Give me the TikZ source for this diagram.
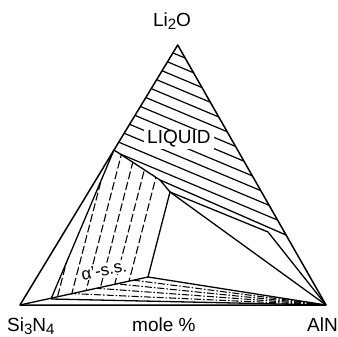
\documentclass[tikz,border=0pt]{standalone}
\usepackage{fontspec}
\setmainfont{Liberation Sans}
\begin{document}
\begin{tikzpicture}[x=1pt,y=-1pt,
  edge/.style={line width=1.5pt, line join=round},
  bd/.style={line width=1.3pt, line join=round},
  hatch/.style={line width=1.2pt},
  dsh/.style={line width=1.1pt, dash pattern=on 8pt off 3pt},
  dashdot/.style={line width=1.05pt, dash pattern=on 7pt off 2pt on 1.5pt off 2pt},
  lbl/.style={inner sep=0pt, font=\fontsize{19}{21}\selectfont}]
\useasboundingbox (0,0) rectangle (338,337);
\coordinate (S) at (20,305);
\coordinate (N) at (326,305);
\coordinate (L) at (177.7,45);
\coordinate (P1) at (114,150);
\coordinate (P2) at (286,235);
\coordinate (R) at (160,180);
\coordinate (Q) at (170,192);
\coordinate (T) at (268,232);
\coordinate (U) at (148,277);
\coordinate (W) at (51,299);
% liquid hatching
\begin{scope}
\clip (L) -- (P1) -- (R) -- (P2) -- cycle;
\foreach \k in {0,...,11} {
  \pgfmathsetmacro\c{-19.7+11.2*\k}
  \draw[hatch] (100,{0.42*100+\c}) -- (300,{0.42*300+\c});
}
\end{scope}
% alpha' s.s. dashed lines
\begin{scope}
\clip (P1) -- (R) -- (Q) -- (U) -- (W) -- cycle;
\foreach \x in {95.5,109,122.5,136,149.5,163} {
  \draw[dsh] ({\x+11},107.5) -- ({\x-44},320);
}
\end{scope}
% bottom dash-dot lines
\begin{scope}
\clip (S) -- (U) -- (N) -- cycle;
\foreach \y in {282,287,292,297} {
  \draw[dashdot] (N) -- ({326-1.7*178},{305-1.7*(305-\y)});
}
\end{scope}
% main lines
\draw[edge] (S) -- (N) -- (L) -- cycle;
\draw[bd] (P1) -- (R) -- (P2);
\draw[bd] (R) -- (Q) -- (U) -- (S);
\draw[bd] (P1) -- (W);
\draw[bd] (Q) -- (T) -- (N);
\draw[bd] (Q) -- (N);
\draw[bd] (U) -- (N);
\draw[bd] (W) -- (N);
% labels
\node[lbl, anchor=base] (li) at (172,26.5) {Li\raisebox{-0.3ex}{\fontsize{15}{15}\selectfont 2}O};
\node[lbl, anchor=base west] (si) at (7,331.5) {Si\raisebox{-0.3ex}{\fontsize{15}{15}\selectfont 3}N\raisebox{-0.3ex}{\fontsize{15}{15}\selectfont 4}};
\node[lbl, anchor=base west] (mole) at (132,331.5) {mole \%};
\node[lbl, anchor=base east] (aln) at (338,331.5) {AlN};
\node[lbl, anchor=base west, fill=white, inner xsep=3pt, inner ysep=1pt] (liq) at (144,144) {LIQUID};
\node[font=\fontsize{17}{17}\selectfont, rotate=11, fill=white, inner sep=0.8pt] (alpha) at (104,270) {α'-s.s.};
\end{tikzpicture}
\end{document}
